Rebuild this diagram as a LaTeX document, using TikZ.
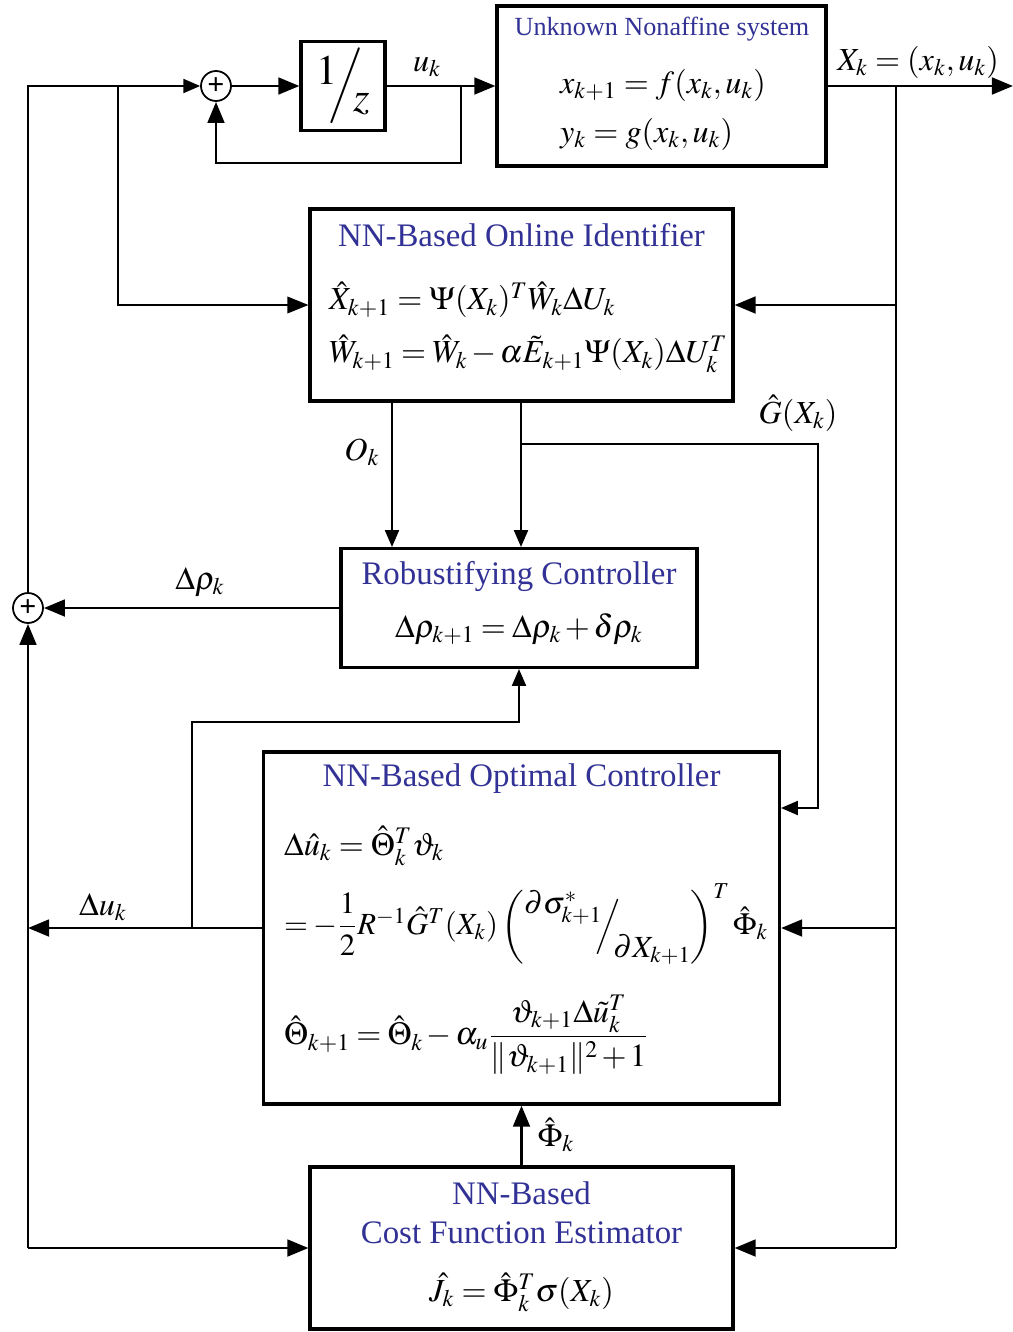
\documentclass[tikz,border=0pt]{standalone}
\usepackage{amsmath}
\usepackage{mathptmx}
\usepackage{fontspec}
\setmainfont{Liberation Serif}
\usetikzlibrary{arrows.meta,calc}
\definecolor{ttl}{RGB}{50,50,150}
\newcommand\ttlfont{\fontsize{18.7}{22}\selectfont\color{ttl}}
\newcommand\eqfont{\fontsize{18.3}{22}\selectfont}
\newcommand\tight{\medmuskip=2mu plus 1mu\thickmuskip=3.5mu plus 1mu}
\begin{document}
\begin{tikzpicture}[x=0.02cm,y=-0.02cm,
  box/.style 2 args={draw,line width=1.8pt,minimum width=#1*0.02cm,minimum height=#2*0.02cm,inner sep=0pt},
  sumnode/.style={draw,circle,line width=1pt,minimum size=30*0.02cm,inner sep=0pt,font=\fontsize{17}{17}\selectfont\bfseries},
  sig/.style={line width=1.6pt},
  thinl/.style={line width=0.9pt},
  bigtip/.style={-{Triangle[length=12pt,width=9.5pt]}},
  smalltip/.style={-{Triangle[length=9.5pt,width=8pt]}},
  lbl/.style={font=\eqfont,inner sep=1pt},
  ttlnode/.style={font=\ttlfont,inner sep=0pt}]
\useasboundingbox (0,0) rectangle (1013,1332);
\fill[white] (0,0) rectangle (1013,1332);

% boxes
\node[box={84}{89}] (zbox) at (343,86) {};
\node[box={329}{160}] (plant) at (661.5,86) {};
\node[box={423}{192}] (ident) at (521.5,305) {};
\node[box={356}{119}] (robust) at (519,608) {};
\node[box={516}{352}] (optim) at (521.5,928) {};
\node[box={423}{162}] (cost) at (521.5,1248) {};
\node[sumnode] (s1) at (216,86) {+};
\node[sumnode] (s2) at (28,608) {+};

% box texts
\node[inner sep=0pt] (zt) at (343,86) {\fontsize{24}{28}\selectfont$\raisebox{0.6ex}{$1$}\!\!\Big/\!\!\raisebox{-0.75ex}{$z$}$};
\node[font=\fontsize{14.9}{18}\selectfont\color{ttl},inner sep=0pt] (pt) at (662,29) {Unknown Nonaffine system};
\node[anchor=west,lbl] (pe1) at (558,85) {$x_{k+1}=f(x_k,u_k)$};
\node[anchor=west,lbl] (pe2) at (558,134) {$y_k=g(x_k,u_k)$};

\node[ttlnode] (it) at (521.5,235) {NN-Based Online Identifier};
\node[anchor=west,lbl] (ie1) at (327,300) {$\hat X_{k+1}=\Psi(X_k)^{T}\hat W_k\Delta U_k$};
\node[anchor=west,lbl] (ie2) at (327,354) {$\tight\hat W_{k+1}=\hat W_k-\alpha\tilde E_{k+1}\Psi(X_k)\Delta U_k^{T}$};

\node[ttlnode] (rt) at (519,576) {Robustifying Controller};
\node[lbl] (re) at (519,629) {$\tight\Delta\rho_{k+1}=\Delta\rho_k+\delta\rho_k$};

\node[ttlnode] (ot) at (521.5,779) {NN-Based Optimal Controller};
\node[anchor=west,lbl] (oe1) at (282,846) {$\Delta\hat u_k=\hat\Theta_k^{T}\vartheta_k$};
\node[anchor=west,lbl,font=\fontsize{17.5}{21}\selectfont] (oe2) at (282,924) {$\tight=-\dfrac{1}{2}R^{-1}\hat G^{T}(X_k)\left(\raisebox{1.5ex}{$\partial\sigma^{*}_{k+1}$}\!\!\Big/\!\!\raisebox{-1.6ex}{$\partial X_{k+1}$}\right)^{T}\hat\Phi_k$};
\node[anchor=west,lbl] (oe3) at (282,1035) {$\tight\hat\Theta_{k+1}=\hat\Theta_k-\alpha_u\dfrac{\vartheta_{k+1}\Delta\tilde u_k^{T}}{\|\vartheta_{k+1}\|^{2}+1}$};

\node[ttlnode] (ct1) at (521.5,1193) {NN-Based};
\node[ttlnode] (ct2) at (521.5,1233) {Cost Function Estimator};
\node[lbl] (ce) at (521.5,1292) {$\hat J_k=\hat\Phi_k^{T}\sigma(X_k)$};

% signal labels
\node[lbl] (luk) at (427,67) {$u_k$};
\node[lbl] (lxk) at (918,62) {$X_k=(x_k,u_k)$};
\node[lbl] (lok) at (362,452) {$O_k$};
\node[lbl] (lg) at (798,413) {$\hat G(X_k)$};
\node[lbl] (lrho) at (200,582) {$\Delta\rho_k$};
\node[lbl] (ldu) at (103,907) {$\Delta u_k$};
\node[lbl] (lphi) at (556,1135) {$\hat\Phi_k$};

% coordinates
\coordinate (tl) at (28,86);
\coordinate (b118) at (118,86);
\coordinate (b118d) at (118,305);
\coordinate (uk) at (461,86);
\coordinate (fb1) at (461,163);
\coordinate (fb2) at (216,163);
\coordinate (xo) at (1013,86);
\coordinate (rv) at (896,86);
\coordinate (rv1) at (896,305);
\coordinate (rv2) at (896,928);
\coordinate (rv3) at (896,1248);
\coordinate (ox) at (392,500);
\coordinate (gx) at (521,444);
\coordinate (gr) at (818,444);
\coordinate (gr2) at (818,808);
\coordinate (lb) at (28,1248);
\coordinate (du) at (28,928);
\coordinate (b192) at (192,928);
\coordinate (b192u) at (192,722);
\coordinate (b519) at (519,722);

% top loop
\draw[thinl,smalltip] (s2) -- (tl) -- (s1);
\draw[thinl,bigtip] (b118) -- (b118d) -- (ident);
\draw[sig,bigtip] (s1) -- (zbox);
\draw[sig,bigtip] (zbox) -- (plant);
\draw[sig,bigtip] (uk) -- (fb1) -- (fb2) -- (s1);
\draw[sig,bigtip] (plant) -- (xo);

% right feedback
\draw[sig] (rv) -- (rv3);
\draw[sig,bigtip] (rv1) -- (ident);
\draw[sig,bigtip] (rv2) -- (optim);
\draw[sig,bigtip] (rv3) -- (cost);

% identifier outputs
\draw[thinl,smalltip] (ident.south -| ox) -- (robust.north -| ox);
\draw[thinl] (ident.south -| gx) -- (gx);
\draw[thinl,smalltip] (gx) -- (robust.north -| gx);
\draw[thinl,smalltip] (gx) -- (gr) -- (gr2) -- (optim.east |- gr2);

% robust output and left side
\draw[sig,bigtip] (robust) -- (s2);
\draw[sig,bigtip] (lb) -- (s2);
\draw[sig,bigtip] (lb) -- (cost);
\draw[sig,bigtip] (optim) -- (du);
\draw[thinl,smalltip] (b192) -- (b192u) -- (b519) -- (robust.south -| b519);

% cost to optimal
\draw[sig,bigtip] (cost) -- (optim);
\end{tikzpicture}
\end{document}
